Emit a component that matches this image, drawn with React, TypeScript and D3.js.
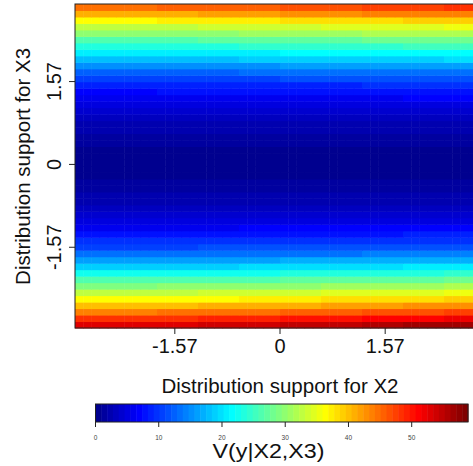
import * as d3 from 'd3';

// V(y|X2,X3) along X3, listed from the bottom row (X3 = -3.1) to the top row (X3 = 3.04)
const vByX3 = [
  54, 49.5, 45, 41, 37, 33.5, 30, 26.5, 23, 19.5,
  16.5, 13.5, 11.2, 9.6, 8, 6.5, 5.2, 4.1, 3.2, 2.5,
  1.9, 1.4, 1.0, 0.7, 0.5, 0.4, 0.5, 0.7, 1.0, 1.4,
  1.9, 2.5, 3.2, 4, 5, 6.2, 7.5, 9, 11, 13,
  15.5, 18.5, 21, 24, 27, 30.5, 33.5, 37.5, 42, 46,
];
// relative change of V across X2, in ten blocks from left to right
const x2Factor = [0.98, 0.98, 0.985, 0.99, 1.0, 1.01, 1.02, 1.03, 1.04, 1.05];
const axisTicks = [-1.57, 0, 1.57];
const legendTicks = [0, 10, 20, 30, 40, 50];
const jetStops = ['#00008F', '#0000FF', '#00FFFF', '#FFFF00', '#FF0000', '#800000'];

const zMax = 58.9;
const nCols = 50;
const font = '"Liberation Sans", Arial, sans-serif';

const jet = d3.scaleLinear<string>()
  .domain([0, 7 / 63, 23 / 63, 39 / 63, 55 / 63, 1])
  .range(jetStops)
  .interpolate(d3.interpolateRgb);
const palette = d3.range(64).map(i => jet(i / 63));
const colorOf = (v: number) => palette[Math.max(0, Math.min(63, Math.floor((v / zMax) * 64)))];

export default function App() {
  const x = d3.scaleLinear().domain([-3.06, 3.06]).range([75, 485]);
  const y = d3.scaleLinear().domain([-3.1, 3.04]).range([328, 4]);
  const col = d3.scaleLinear().domain([0, nCols]).range([-3.06, 3.06]);
  const row = d3.scaleLinear().domain([0, vByX3.length]).range([-3.1, 3.04]);
  const leg = d3.scaleLinear().domain([0, zMax]).range([95.5, 468]);

  const cells: { x: number; y: number; w: number; h: number; fill: string }[] = [];
  vByX3.forEach((v, j) => {
    d3.range(nCols).forEach(i => {
      const f = x2Factor[Math.floor((i * x2Factor.length) / nCols)];
      const x0 = x(col(i));
      const x1 = x(col(i + 1));
      const y0 = y(row(j + 1));
      const y1 = y(row(j));
      cells.push({ x: x0, y: y0, w: x1 - x0 + 0.5, h: y1 - y0 + 0.5, fill: colorOf(v * f) });
    });
  });

  return (
    <svg width={473} height={466} style={{ position: 'absolute', left: 0, top: 0, background: '#fff' }}>
      <g>
        {cells.map((c, k) => (
          <rect key={k} x={c.x} y={c.y} width={c.w} height={c.h} fill={c.fill} />
        ))}
      </g>
      <rect x={75} y={4} width={410} height={324} fill="none" stroke="#222" strokeWidth={1} />

      {/* x axis */}
      {axisTicks.map(t => (
        <g key={'x' + t}>
          <line x1={x(t)} x2={x(t)} y1={328} y2={334} stroke="#222" />
          <text x={x(t)} y={353} textAnchor="middle" fontFamily={font} fontSize={20} fill="#111">
            {t}
          </text>
        </g>
      ))}
      <text x={280} y={393} textAnchor="middle" fontFamily={font} fontSize={20.5} fill="#111">
        Distribution support for X2
      </text>

      {/* y axis */}
      {axisTicks.map(t => (
        <g key={'y' + t}>
          <line x1={69} x2={75} y1={y(t)} y2={y(t)} stroke="#222" />
          <text
            transform={`translate(61,${y(t)}) rotate(-90)`}
            textAnchor="middle"
            fontFamily={font}
            fontSize={20}
            fill="#111"
          >
            {t}
          </text>
        </g>
      ))}
      <text
        transform={`translate(30,${y(0) + 2}) rotate(-90)`}
        textAnchor="middle"
        fontFamily={font}
        fontSize={20.5}
        fill="#111"
      >
        Distribution support for X3
      </text>

      {/* colour bar */}
      {palette.map((c, i) => (
        <rect
          key={'p' + i}
          x={leg((i / 64) * zMax)}
          y={404}
          width={leg(((i + 1) / 64) * zMax) - leg((i / 64) * zMax) + 0.5}
          height={18}
          fill={c}
        />
      ))}
      <rect x={95.5} y={404} width={372.5} height={18} fill="none" stroke="#222" strokeWidth={1} />
      {legendTicks.map(t => (
        <g key={'l' + t}>
          <line x1={leg(t)} x2={leg(t)} y1={422} y2={427} stroke="#222" />
          <text x={leg(t)} y={440} textAnchor="middle" fontFamily={font} fontSize={6.5} fill="#444">
            {t}
          </text>
        </g>
      ))}
      <text
        x={268.5}
        y={458}
        textAnchor="middle"
        fontFamily={font}
        fontSize={20}
        fill="#111"
        textLength={112}
        lengthAdjust="spacingAndGlyphs"
      >
        V(y|X2,X3)
      </text>
    </svg>
  );
}
